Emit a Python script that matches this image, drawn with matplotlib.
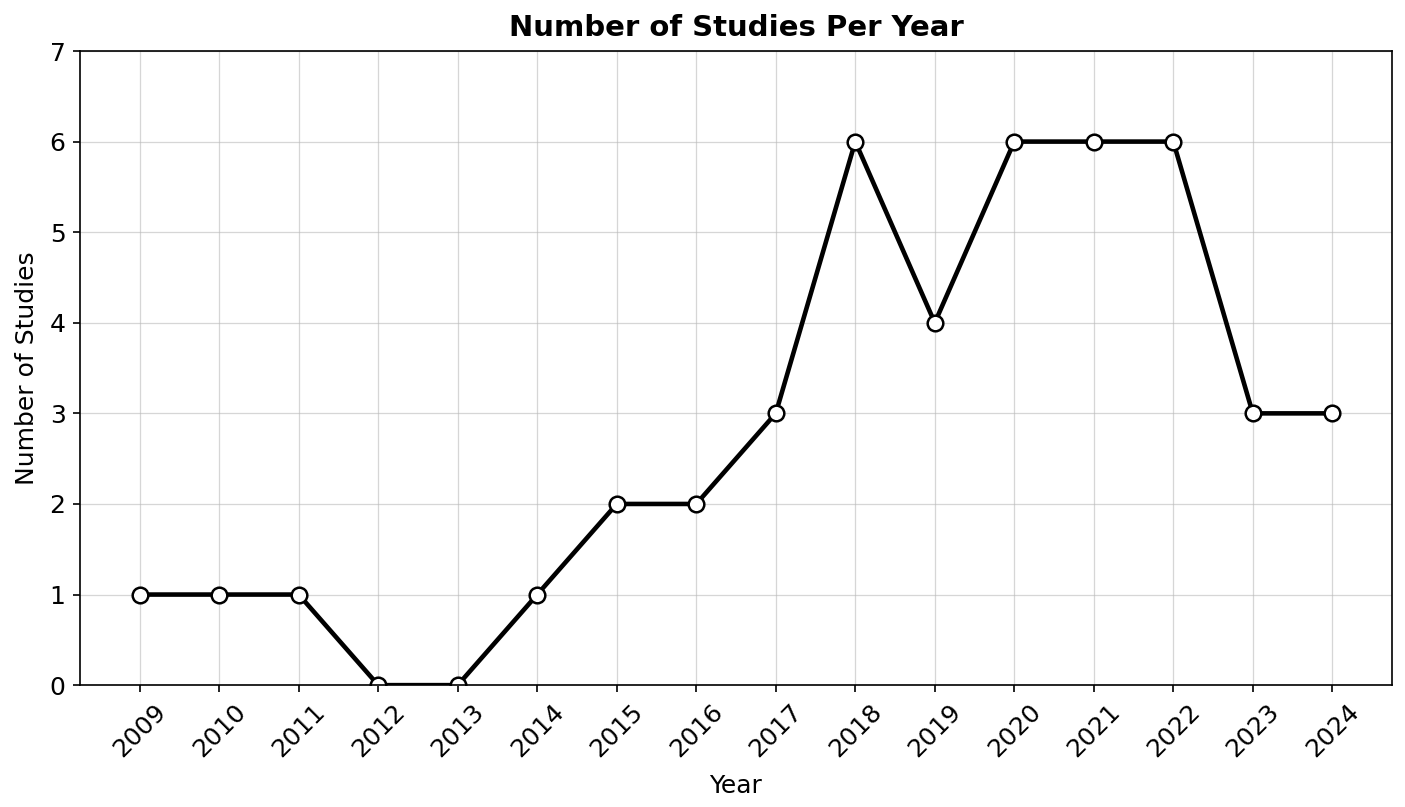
import matplotlib
matplotlib.use("Agg")
import matplotlib.pyplot as plt

years = [2009, 2010, 2011, 2012, 2013, 2014, 2015, 2016,
         2017, 2018, 2019, 2020, 2021, 2022, 2023, 2024]
studies = [1, 1, 1, 0, 0, 1, 2, 2, 3, 6, 4, 6, 6, 6, 3, 3]

fig, ax = plt.subplots(figsize=(1405 / 150, 807 / 150), dpi=150)
fig.subplots_adjust(left=0.057, right=0.9907, top=0.9368, bottom=0.151)

ax.plot(years, studies, color="black", linewidth=2.2, marker="o",
        markersize=7.5, markerfacecolor="white", markeredgecolor="black",
        markeredgewidth=1.2)

ax.set_title("Number of Studies Per Year", fontsize=14, fontweight="bold", pad=7)
ax.set_xlabel("Year", fontsize=12, labelpad=6)
ax.set_ylabel("Number of Studies", fontsize=12, labelpad=5)
ax.set_xticks(years)
ax.set_xticklabels([str(y) for y in years], rotation=45)
ax.set_ylim(0, 7)
ax.tick_params(labelsize=12)
ax.grid(True, color="#bbbbbb", linewidth=0.6, alpha=0.6)
ax.set_axisbelow(True)

fig.savefig("out.png", dpi=150)
